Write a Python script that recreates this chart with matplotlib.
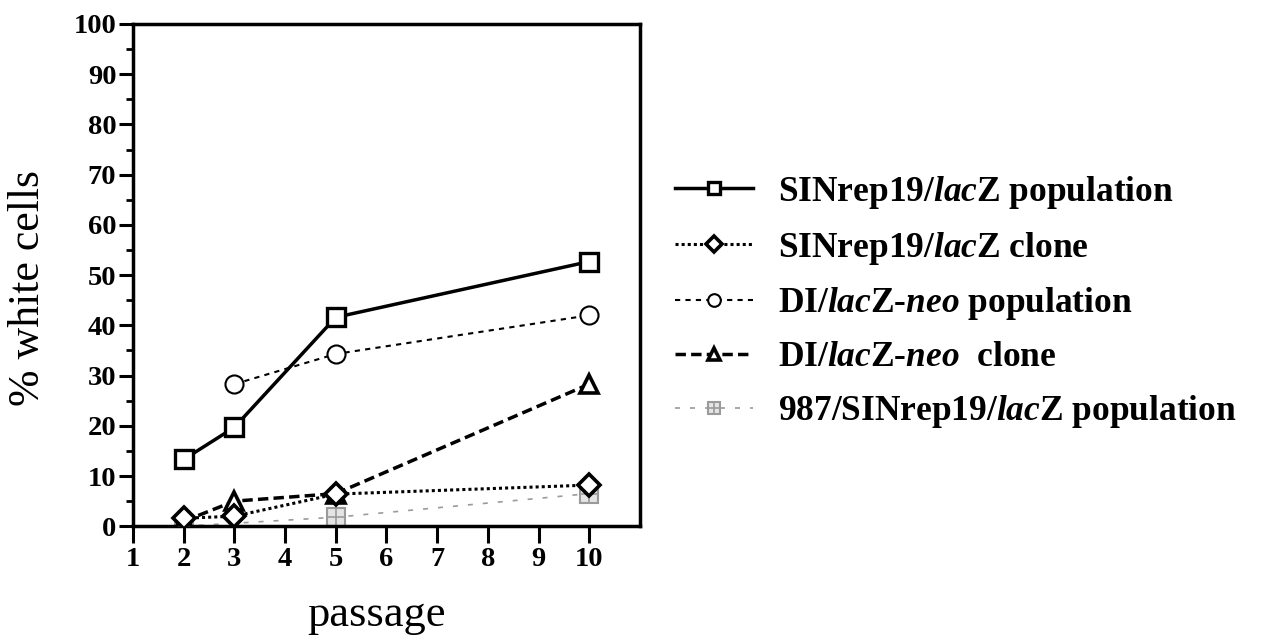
import matplotlib
matplotlib.use("Agg")
import matplotlib.pyplot as plt
from matplotlib.legend_handler import HandlerTuple
from matplotlib.ticker import MultipleLocator

plt.rcParams['font.family'] = ['Liberation Serif', 'DejaVu Serif']
plt.rcParams['mathtext.fontset'] = 'custom'
plt.rcParams['mathtext.rm'] = 'Liberation Serif:bold'
plt.rcParams['mathtext.it'] = 'Liberation Serif:italic:bold'
plt.rcParams['mathtext.bf'] = 'Liberation Serif:bold'

# data
x_pop = [2, 3, 5, 10]
sin_pop = [13.3, 19.7, 41.6, 52.7]
x_sin_clone = [2, 3, 5, 10]
sin_clone = [1.6, 2.0, 6.4, 8.2]
x_di_pop = [3, 5, 10]
di_pop = [28.3, 34.3, 42.0]
x_di_clone = [2, 3, 5, 10]
di_clone = [1.0, 5.0, 6.5, 28.3]
x_987 = [2, 5, 10]
pop_987 = [0.0, 1.8, 6.5]

labels = [r'SINrep19/$\mathit{lac}$Z population',
          r'SINrep19/$\mathit{lac}$Z clone',
          r'DI/$\mathit{lac}$Z-$\mathit{neo}$ population',
          r'DI/$\mathit{lac}$Z-$\mathit{neo}$  clone',
          r'987/SINrep19/$\mathit{lac}$Z population']
xticks = list(range(1, 11))
yticks = list(range(0, 101, 10))

fig = plt.figure(figsize=(12.62, 6.41), dpi=100)
ax = fig.add_axes([0.1054, 0.179, 0.4017, 0.7836])

ms = 13
h1, = ax.plot(x_pop, sin_pop, '-', color='black', lw=2.5, marker='s', ms=ms,
              mfc='white', mec='black', mew=2.4, zorder=5)
h3, = ax.plot(x_di_pop, di_pop, color='black', lw=1.5, ls=(0, (2.5, 2.5)), marker='o', ms=ms,
              mfc='white', mec='black', mew=1.5, zorder=4)
h4, = ax.plot(x_di_clone, di_clone, color='black', lw=2.5, ls=(0, (3, 1.5)), marker='^', ms=ms,
              mfc='white', mec='black', mew=2.6, zorder=3)
h2, = ax.plot(x_sin_clone, sin_clone, color='black', lw=2.2, ls=(0, (1, 1)), marker='D', ms=ms - 2,
              mfc='white', mec='black', mew=2.6, zorder=6)
gray = '#9a9a9a'
h5a, = ax.plot(x_987, pop_987, color=gray, lw=1.2, ls=(0, (3, 6)), marker='s', ms=ms,
               mfc='#e4e4e4', mec=gray, mew=1.5, zorder=2)
h5b, = ax.plot(x_987, pop_987, ls='none', marker='+', ms=ms, mec=gray, mew=1.2, zorder=2)

ax.set_xlim(1, 11)
ax.set_ylim(0, 100)
ax.set_xticks(xticks)
ax.set_xticklabels([str(t) for t in xticks])
ax.set_yticks(yticks)
ax.set_yticklabels([str(t) for t in yticks])
ax.yaxis.set_minor_locator(MultipleLocator(5))
for s in ax.spines.values():
    s.set_linewidth(2.5)
ax.tick_params(axis='both', which='major', direction='out', width=2.2, labelsize=20.5)
ax.tick_params(axis='x', which='major', length=12, pad=3)
ax.tick_params(axis='y', which='major', length=10, pad=2)
ax.tick_params(axis='y', which='minor', direction='out', length=5, width=2)
for lab in ax.get_xticklabels() + ax.get_yticklabels():
    lab.set_fontweight('bold')

ax.set_xlabel('passage', fontsize=32)
ax.xaxis.set_label_coords(0.48, -0.177)
ax.xaxis.label.set_va('center')
ax.set_ylabel('% white cells', fontsize=31.5)
ax.yaxis.set_label_coords(-0.207, 0.474)
ax.yaxis.label.set_va('center')

leg = fig.legend([h1, h2, h3, h4, (h5a, h5b)], labels,
                 handler_map={tuple: HandlerTuple(ndivide=1, pad=0)},
                 loc='center left', bbox_to_anchor=(0.521, 0.529),
                 frameon=False, fontsize=25.5, handlelength=2.2, handletextpad=0.7,
                 labelspacing=0.53, borderpad=0, markerscale=0.7)
for t in leg.get_texts():
    t.set_fontweight('bold')

fig.savefig('out.png', dpi=100)
